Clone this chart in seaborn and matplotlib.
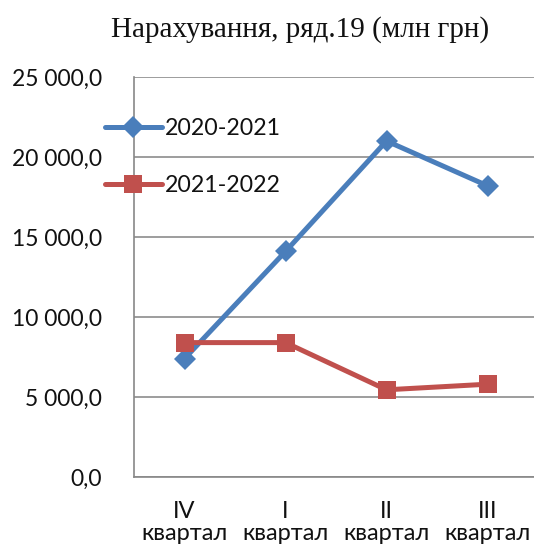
import matplotlib
matplotlib.use("Agg")
import matplotlib.pyplot as plt
import seaborn as sns
import pandas as pd

categories = ["IV\nквартал", "I\nквартал", "II\nквартал", "III\nквартал"]
series_names = ["2020-2021", "2021-2022"]
values_2020_2021 = [7400, 14100, 21000, 18200]
values_2021_2022 = [8400, 8400, 5450, 5800]
y_tick_labels = ["0,0", "5 000,0", "10 000,0", "15 000,0", "20 000,0", "25 000,0"]
title = "Нарахування, ряд.19 (млн грн)"

rows = []
for name, vals in zip(series_names, [values_2020_2021, values_2021_2022]):
    for i, v in enumerate(vals):
        rows.append({"pos": i, "value": v, "series": name})
df = pd.DataFrame(rows)

sns.set_style("white")
plt.rcParams["font.family"] = ["Lato", "DejaVu Sans"]

fig = plt.figure(figsize=(5.34, 5.54), dpi=100)
ax = fig.add_axes([0.251, 0.139, 0.749, 0.722])

palette = {"2020-2021": "#4A7EBB", "2021-2022": "#C0504D"}
markers = {"2020-2021": "D", "2021-2022": "s"}
sns.lineplot(data=df, x="pos", y="value", hue="series", style="series",
             palette=palette, markers=markers, dashes=False, linewidth=3.6,
             markersize=13, markeredgewidth=0, ax=ax, legend=True, zorder=3)
for line in ax.lines:
    if line.get_marker() == "D":
        line.set_markersize(11)

ax.set_ylim(0, 25000)
ax.set_xlim(-0.5, 3.46)
yt = [0, 5000, 10000, 15000, 20000, 25000]
ax.set_yticks(yt)
ax.set_yticklabels(y_tick_labels, fontsize=16.5, color="#111111")
ax.set_xticks(range(len(categories)))
ax.set_xticklabels(categories, fontsize=17, color="#111111", linespacing=1.1)
ax.set_xticks([0.5, 1.5, 2.5], minor=True)
ax.tick_params(axis="x", which="major", length=0, pad=17)
ax.tick_params(axis="x", which="minor", length=7, color="#c8c8c8", width=1.2, direction="out")
ax.tick_params(axis="y", which="major", length=7, color="#888888", width=1.2, direction="out", pad=16)
ax.set_xlabel("")
ax.set_ylabel("")
ax.grid(axis="y", color="#8c8c8c", linewidth=1.2)
ax.grid(axis="x", visible=False)
for s in ["top", "right"]:
    ax.spines[s].set_visible(False)
for s in ["left", "bottom"]:
    ax.spines[s].set_color("#888888")
    ax.spines[s].set_linewidth(1.2)
ax.set_axisbelow(True)

leg = ax.legend(loc="upper left", bbox_to_anchor=(105 / 534, 1 - 118 / 554),
                bbox_transform=fig.transFigure, frameon=False, fontsize=16.7,
                handlelength=2.45, handletextpad=0.15, labelspacing=1.55,
                borderpad=0, borderaxespad=0)
for t in leg.get_texts():
    t.set_color("#111111")

fig.text(300 / 534, 1 - 30 / 554, title, ha="center", va="center",
         fontsize=21, family=["Liberation Serif", "DejaVu Serif"], color="#111111")

fig.savefig("out.png", dpi=100, facecolor="white")
